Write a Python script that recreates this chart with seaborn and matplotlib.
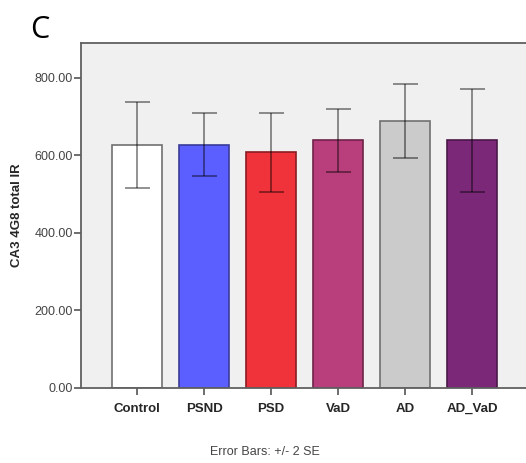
import matplotlib
matplotlib.use("Agg")
import matplotlib.pyplot as plt
import seaborn as sns
import numpy as np

groups = ["Control", "PSND", "PSD", "VaD", "AD", "AD_VaD"]
means = [627, 627, 609, 639, 689, 639]
err_low = [516, 547, 506, 557, 594, 506]
err_high = [738, 710, 710, 720, 785, 771]
colors = ["#ffffff", "#5b5fff", "#f0323a", "#b83e7c", "#cbcbcb", "#7b2878"]
edges = ["#707070", "#3a3c9a", "#8a1c22", "#6e2449", "#707070", "#4a1848"]

sns.set_style("ticks")
plt.rcParams['font.family'] = ['Liberation Sans', 'DejaVu Sans']

fig = plt.figure(figsize=(5.26, 4.63), dpi=100)
ax = fig.add_axes([81 / 526, 1 - 388 / 463, 1 - 81 / 526 + 0.002, (388 - 43) / 463])
ax.set_facecolor("#f0f0f0")

sns.barplot(x=groups, y=means, hue=groups, palette=colors, legend=False,
            width=0.75, ax=ax, linewidth=1.2, saturation=1)
for patch, ec in zip(ax.patches, edges):
    patch.set_edgecolor(ec)

m = np.array(means)
yerr = [m - np.array(err_low), np.array(err_high) - m]
ax.errorbar(range(len(groups)), means, yerr=yerr, fmt="none", ecolor="black",
            alpha=0.5, elinewidth=1.2, capsize=9, capthick=1.2)

ax.set_xlim(-0.836, 5.82)
ax.set_ylim(0, 890)
ax.set_yticks([0, 200, 400, 600, 800])
ax.set_yticklabels([f"{v:.2f}" for v in [0, 200, 400, 600, 800]], color="#444444", fontsize=9)
ax.tick_params(axis="both", direction="out", length=5, width=1.2, color="#555555",
               bottom=True, left=True)
ax.tick_params(axis="y", pad=1)
ax.tick_params(axis="x", pad=6)
for lab in ax.get_xticklabels():
    lab.set_fontweight("bold")
    lab.set_fontsize(9.5)
for side in ["left", "bottom", "top"]:
    ax.spines[side].set_visible(True)
    ax.spines[side].set_color("#606060")
    ax.spines[side].set_linewidth(1.3)
ax.spines["right"].set_visible(False)
ax.set_xlabel("")
ax.set_ylabel("CA3 4G8 total IR", fontweight="bold", fontsize=9.5, labelpad=8)

fig.text(30 / 526, 1 - 30 / 463, "C", fontsize=22, ha="left", va="center",
         color="black", family=["Open Sans", "DejaVu Sans"])
fig.text(265 / 526, 1 - 452 / 463, "Error Bars: +/- 2 SE", fontsize=9,
         ha="center", va="center", color="#444444")

fig.savefig("out.png", dpi=100)
